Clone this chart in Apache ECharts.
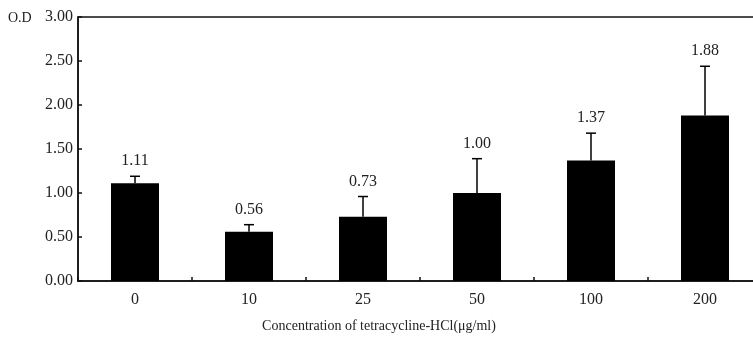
<!DOCTYPE html>
<html>
<head>
<meta charset="utf-8">
<script src="https://cdn.jsdelivr.net/npm/echarts@6/dist/echarts.min.js"></script>
<style>
  html, body { margin: 0; padding: 0; background: #fff; overflow: hidden; }
  #chart { width: 763px; height: 342px; }
</style>
</head>
<body>
<div id="chart"></div>
<script>
// Concentration groups (µg/ml)
const categories = ['0', '10', '25', '50', '100', '200'];
// Mean optical density per group
const odValues = [1.11, 0.56, 0.73, 1.00, 1.37, 1.88];
// Upper error (SD) per group
const odErrors = [0.08, 0.08, 0.23, 0.39, 0.31, 0.56];
// Y axis tick values
const yTicks = ['0.00', '0.50', '1.00', '1.50', '2.00', '2.50', '3.00'];

const font = 'Liberation Serif';
const textColor = '#222';
const textSize = 14;   // axis titles
const numSize = 16;    // numeric labels

const chart = echarts.init(document.getElementById('chart'));

const errorData = odValues.map((v, i) => [i, v, v + odErrors[i]]);

chart.setOption({
  animation: false,
  grid: {
    left: 78, top: 17, right: 1, height: 264,
    show: true, borderColor: '#111', borderWidth: 1.5, backgroundColor: 'transparent'
  },
  xAxis: {
    type: 'category',
    data: categories,
    axisLine: { lineStyle: { color: '#111', width: 1.5 } },
    axisTick: { show: true, inside: true, length: 4, lineStyle: { color: '#111', width: 1.5 } },
    axisLabel: { color: textColor, fontFamily: font, fontSize: numSize, margin: 11 }
  },
  yAxis: {
    type: 'value',
    min: 0, max: 3, interval: 0.5,
    splitLine: { show: false },
    axisLine: { show: true, lineStyle: { color: '#111', width: 1.5 } },
    axisTick: { show: true, inside: true, length: 4, lineStyle: { color: '#111', width: 1.5 } },
    axisLabel: {
      color: textColor, fontFamily: font, fontSize: numSize, margin: 5,
      formatter: v => yTicks[Math.round(v / 0.5)]
    }
  },
  graphic: [
    {
      type: 'text', x: 8, y: 18,
      style: { text: 'O.D', fill: textColor, font: textSize + 'px "Liberation Serif"', textVerticalAlign: 'middle' }
    },
    {
      type: 'text', x: 379, y: 326,
      style: {
        text: 'Concentration of tetracycline-HCl(μg/ml)',
        fill: textColor, font: textSize + 'px "Liberation Serif"',
        textAlign: 'center', textVerticalAlign: 'middle'
      }
    }
  ],
  series: [
    {
      type: 'bar',
      data: odValues,
      barWidth: 48,
      itemStyle: { color: '#000' }
    },
    {
      type: 'custom',
      data: errorData,
      z: 5,
      renderItem: function (params, api) {
        const x = api.coord([api.value(0), api.value(1)])[0];
        const yBase = api.coord([api.value(0), api.value(1)])[1];
        const yTop = api.coord([api.value(0), api.value(2)])[1];
        const half = 5;
        const label = odValues[params.dataIndex].toFixed(2);
        const stroke = { stroke: '#000', lineWidth: 1.5 };
        return {
          type: 'group',
          children: [
            { type: 'line', shape: { x1: x, y1: yBase, x2: x, y2: yTop }, style: stroke },
            { type: 'line', shape: { x1: x - half, y1: yTop, x2: x + half, y2: yTop }, style: stroke },
            {
              type: 'text',
              style: {
                x: x, y: yTop - 15, text: label,
                fill: textColor, font: numSize + 'px "Liberation Serif"',
                textAlign: 'center', textVerticalAlign: 'middle'
              }
            }
          ]
        };
      }
    }
  ]
});
</script>
</body>
</html>
